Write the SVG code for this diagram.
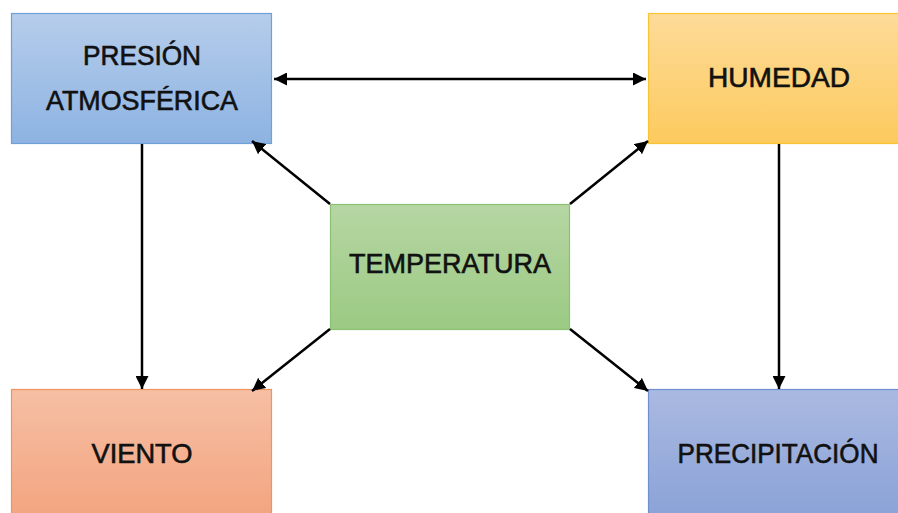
<svg xmlns="http://www.w3.org/2000/svg" width="898" height="513" viewBox="0 0 898 513">
  <defs>
    <linearGradient id="gBlue" x1="0" y1="0" x2="0" y2="1">
      <stop offset="0" stop-color="#b6cdeb"/>
      <stop offset="1" stop-color="#8db3e2"/>
    </linearGradient>
    <linearGradient id="gYellow" x1="0" y1="0" x2="0" y2="1">
      <stop offset="0" stop-color="#fddb98"/>
      <stop offset="1" stop-color="#fcca5e"/>
    </linearGradient>
    <linearGradient id="gGreen" x1="0" y1="0" x2="0" y2="1">
      <stop offset="0" stop-color="#b6d6a3"/>
      <stop offset="1" stop-color="#9bca83"/>
    </linearGradient>
    <linearGradient id="gOrange" x1="0" y1="0" x2="0" y2="1">
      <stop offset="0" stop-color="#f6bfa4"/>
      <stop offset="1" stop-color="#f3a47f"/>
    </linearGradient>
    <linearGradient id="gIndigo" x1="0" y1="0" x2="0" y2="1">
      <stop offset="0" stop-color="#aab9e1"/>
      <stop offset="1" stop-color="#8aa2d7"/>
    </linearGradient>
    <marker id="head" viewBox="0 0 10 10" refX="10" refY="5" markerWidth="5.2" markerHeight="5.2" orient="auto-start-reverse" markerUnits="strokeWidth">
      <path d="M0,0 L10,5 L0,10 Z" fill="#000"/>
    </marker>
  </defs>
  <style>
    .box { stroke-width: 1.2; }
    .lbl { font-family: "Liberation Sans", Arial, sans-serif; font-size: 27.5px; fill: #111; stroke: #111; stroke-width: 0.6; text-anchor: middle; }
    .arr { stroke: #000; stroke-width: 2.5; fill: none; marker-end: url(#head); }
  </style>
  <rect width="898" height="513" fill="#fff"/>

  <g id="presion">
    <rect class="box" x="11.5" y="13.5" width="260" height="130" fill="url(#gBlue)" stroke="#6fa0d8"/>
    <text class="lbl" x="142" y="65" textLength="118" lengthAdjust="spacingAndGlyphs">PRESIÓN</text>
    <text class="lbl" x="142" y="110" textLength="192" lengthAdjust="spacingAndGlyphs">ATMOSFÉRICA</text>
  </g>

  <g id="humedad">
    <rect class="box" x="648.5" y="13.5" width="260" height="130" fill="url(#gYellow)" stroke="#f8c334"/>
    <text class="lbl" x="779" y="87" textLength="142" lengthAdjust="spacingAndGlyphs">HUMEDAD</text>
  </g>

  <g id="temperatura">
    <rect class="box" x="330.5" y="204.5" width="239" height="125" fill="url(#gGreen)" stroke="#8cc072"/>
    <text class="lbl" x="450" y="273" textLength="202" lengthAdjust="spacingAndGlyphs">TEMPERATURA</text>
  </g>

  <g id="viento">
    <rect class="box" x="11.5" y="389.5" width="260" height="130" fill="url(#gOrange)" stroke="#f0945f"/>
    <text class="lbl" x="142" y="463" textLength="101" lengthAdjust="spacingAndGlyphs">VIENTO</text>
  </g>

  <g id="precipitacion">
    <rect class="box" x="648.5" y="389.5" width="260" height="130" fill="url(#gIndigo)" stroke="#6f8fd0"/>
    <text class="lbl" x="778" y="463" textLength="201" lengthAdjust="spacingAndGlyphs">PRECIPITACIÓN</text>
  </g>

  <g id="connectors">
    <line class="arr" x1="274" y1="79" x2="646" y2="79" marker-start="url(#head)"/>
    <line class="arr" x1="142" y1="144" x2="142" y2="389"/>
    <line class="arr" x1="779" y1="144" x2="779" y2="389"/>
    <line class="arr" x1="330" y1="204" x2="252" y2="141"/>
    <line class="arr" x1="570" y1="204" x2="648" y2="141"/>
    <line class="arr" x1="330" y1="329" x2="252" y2="391"/>
    <line class="arr" x1="570" y1="329" x2="648" y2="391"/>
  </g>
</svg>
